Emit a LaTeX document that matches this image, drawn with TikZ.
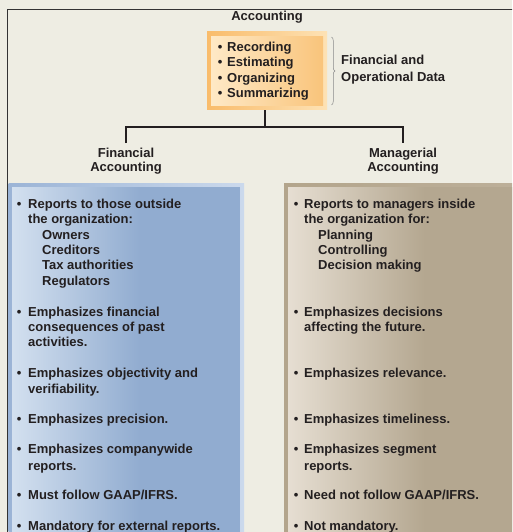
\documentclass[tikz,border=0pt]{standalone}
\usepackage{fontspec}
\setmainfont{Liberation Sans}
\usetikzlibrary{decorations.pathreplacing}
\definecolor{bg}{HTML}{EEEDE3}
\definecolor{ink}{HTML}{231F20}
\definecolor{frame}{HTML}{333333}
\definecolor{bluelite}{HTML}{D3E0EF}
\definecolor{bluedark}{HTML}{91ACD0}
\definecolor{blueoutL}{HTML}{9BB4D6}
\definecolor{blueoutR}{HTML}{CBD9EC}
\definecolor{tanlite}{HTML}{E6DED2}
\definecolor{tandark}{HTML}{B4A790}
\definecolor{tanoutL}{HTML}{B3A58C}
\definecolor{tanoutR}{HTML}{BDB09A}
\definecolor{orgoutL}{HTML}{F9BC6B}
\definecolor{orgoutR}{HTML}{FDE2B5}
\definecolor{orginL}{HTML}{FEE9C6}
\definecolor{orginR}{HTML}{F9C47B}
\definecolor{bracec}{HTML}{8A8A8A}
\begin{document}
\begin{tikzpicture}[x=1pt,y=-1pt,
  txt/.style={anchor=base west,inner sep=0pt,font=\bfseries\fontsize{13}{15.5}\selectfont,text=ink},
  ctr/.style={anchor=base,inner sep=0pt,font=\bfseries\fontsize{13}{15.5}\selectfont,text=ink},
  bul/.style={txt},
  tree/.style={draw=ink,line width=2.8pt,line join=miter}]
\clip (0,0) rectangle (512,532);
\fill[bg] (0,0) rectangle (512,532);
% left panel
\shade[left color=blueoutL,right color=blueoutR] (8.5,183) rectangle (244,540);
\shade[left color=bluelite,right color=bluedark] (12,187) rectangle (140,540);
\fill[bluedark] (139.5,187) rectangle (240,540);
% right panel
\shade[left color=tanoutL,right color=tanoutR] (284,183) rectangle (530,540);
\shade[left color=tanlite,right color=tandark] (288,187) rectangle (425,540);
\fill[tandark] (424.5,187) rectangle (530,540);
% frame
\draw[frame,line width=1pt] (7.5,540) -- (7.5,10) -- (520,10);
% title
\node[ctr] (title) at (267,{16+4.6}) {Accounting};
% orange box
\shade[left color=orgoutL,right color=orgoutR] (207,32) rectangle (327,110);
\shade[left color=orginL,right color=orginR] (211,37) rectangle (323,106);
\node[inner sep=0pt,minimum width=120pt,minimum height=78pt] (ob) at (267,71) {};
\foreach \y/\t [count=\i] in {46.5/Recording,62/Estimating,77.5/Organizing,92.5/Summarizing}{
  \node[bul] (ob\i) at (217.7,{\y+4.6}) {•};
  \node[txt] (ot\i) at (227,{\y+4.6}) {\t};
}
\draw[bracec,line width=0.5pt,decorate,decoration={brace,amplitude=3.5pt}] (331.5,37) -- (331.5,105);
\node[txt] (fod1) at (341,{60+4.6}) {Financial and};
\node[txt] (fod2) at (341,{77+4.6}) {Operational Data};
% tree
\coordinate (j) at (265,127);
\coordinate (fj) at (126,143);
\coordinate (mj) at (403,143);
\draw[tree] (j |- ob.south) -- (j);
\draw[tree] (fj) |- (j) -| (mj);
\node[ctr] (fa1) at (126,{153+4.6}) {Financial};
\node[ctr] (fa2) at (126,{167+4.6}) {Accounting};
\node[ctr] (ma1) at (403,{153+4.6}) {Managerial};
\node[ctr] (ma2) at (403,{167+4.6}) {Accounting};
% left panel text
\foreach \y [count=\i] in {204,312,373,419,449,495,526}
  \node[bul] (lb\i) at (16.7,{\y+4.6}) {•};
\foreach \x/\y/\t [count=\i] in {
  28/204/Reports to those outside,
  28/219/the organization:,
  42/235/Owners,
  42/250/Creditors,
  42/265/Tax authorities,
  42/281/Regulators,
  28/312/Emphasizes financial,
  28/327/consequences of past,
  28/342/activities.,
  28/373/Emphasizes objectivity and,
  28/389/verifiability.,
  28/419/Emphasizes precision.,
  28/449/Emphasizes companywide,
  28/465.5/reports.,
  28/495/{Must follow GAAP/IFRS.},
  28/526/Mandatory for external reports.}
  \node[txt] (l\i) at (\x,{\y+4.6}) {\t};
% right panel text
\foreach \y [count=\i] in {204,312,373,419,449,495,526}
  \node[bul] (rb\i) at (293.7,{\y+4.6}) {•};
\foreach \x/\y/\t [count=\i] in {
  304/204/Reports to managers inside,
  304/219/the organization for:,
  318/235/Planning,
  318/250/Controlling,
  318/265/Decision making,
  304/312/Emphasizes decisions,
  304/327/affecting the future.,
  304/373/Emphasizes relevance.,
  304/419/Emphasizes timeliness.,
  304/449/Emphasizes segment,
  304/465.5/reports.,
  304/495/{Need not follow GAAP/IFRS.},
  304/526/Not mandatory.}
  \node[txt] (r\i) at (\x,{\y+4.6}) {\t};
\end{tikzpicture}
\end{document}
